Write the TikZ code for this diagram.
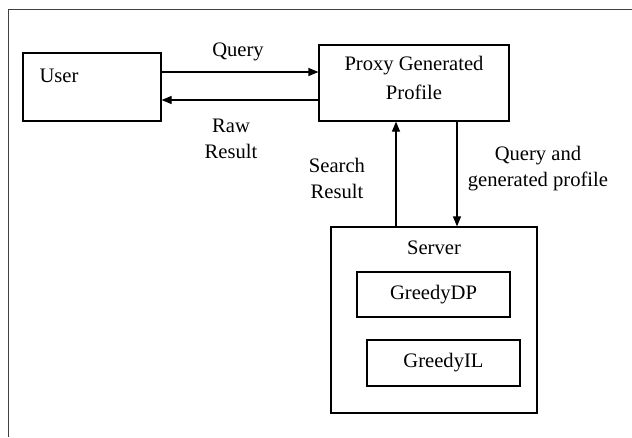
\documentclass[tikz,border=0pt]{standalone}
\usepackage{fontspec}
\setmainfont{Liberation Serif}
\usetikzlibrary{arrows.meta}
\def\fnt{\fontsize{20.6}{26}\selectfont}

\begin{document}
\begin{tikzpicture}[x=1pt,y=-1pt,line width=1.2pt,font=\fnt,
  blk/.style={draw,inner sep=0pt},
  lbl/.style={anchor=base,inner sep=0pt,align=center},
  arr/.style={-{Triangle[length=10pt,width=8pt]}}]
\useasboundingbox (0,0) rectangle (632,437);
\draw[line width=1.6pt,black!75] (8.5,437) -- (8.5,9.5) -- (632,9.5);
% boxes
\node[blk,minimum width=138,minimum height=68] (user) at (92,87) {};
\node[blk,minimum width=190,minimum height=76] (proxy) at (414,83) {};
\node[blk,minimum width=206,minimum height=186] (server) at (434,320) {};
\node[blk,minimum width=153,minimum height=45] (dp) at (433.5,294.5) {GreedyDP};
\node[blk,minimum width=153,minimum height=46] (il) at (443.5,363) {GreedyIL};
% texts (base = last line)
\node[lbl] (usertxt) at (59,82) {User};
\node[lbl] (proxytxt) at (414,99) {Proxy Generated\\[3pt]Profile};
\node[lbl] (servertxt) at (434,254) {Server};
\node[lbl] (qlbl) at (238,56) {Query};
\node[lbl] (rawlbl) at (231,158) {Raw\\Result};
\node[lbl] (srlbl) at (337,198) {Search\\Result};
\node[lbl] (qplbl) at (538,186) {Query and\\generated profile};
% connectors
\draw[arr] (user.east |- 0,72) -- (proxy.west |- 0,72);
\draw[arr] (proxy.west |- 0,100) -- (user.east |- 0,100);
\draw[arr] (server.north -| 396,0) -- (proxy.south -| 396,0);
\draw[arr] (proxy.south -| 457,0) -- (server.north -| 457,0);
\end{tikzpicture}
\end{document}
